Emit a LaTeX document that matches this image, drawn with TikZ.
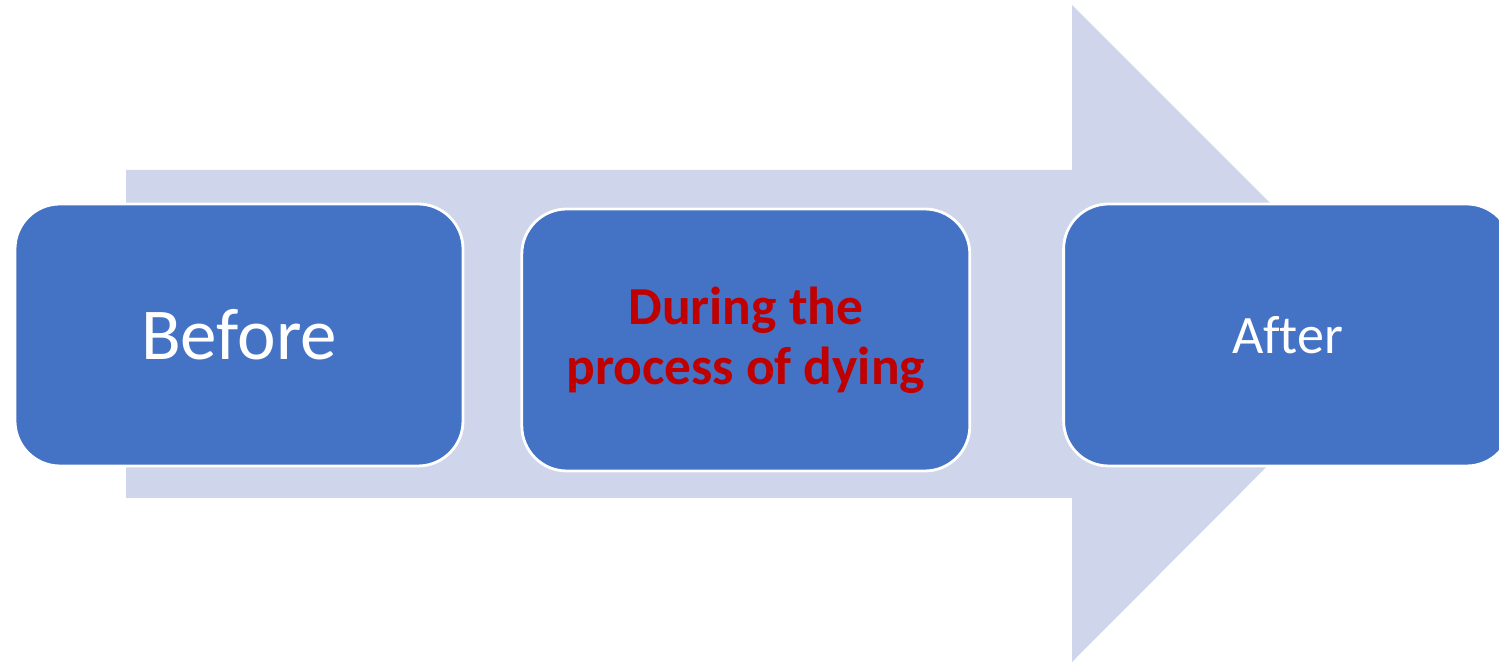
\documentclass[tikz,border=0pt]{standalone}
\usepackage{fontspec}
\setmainfont{Carlito}[Ligatures=NoCommon]
\usetikzlibrary{positioning}
\definecolor{boxblue}{HTML}{4472C4}
\definecolor{arrowgrey}{HTML}{CFD5EA}
\definecolor{textred}{HTML}{C00000}

\begin{document}
\begin{tikzpicture}[
    stage/.style={draw=white, line width=0.8pt, fill=boxblue, rounded corners=0.45cm, align=center, minimum width=4.48cm, minimum height=2.62cm, inner sep=0pt, text=white},
    bigarrow/.style={fill=arrowgrey, draw=none}
]
\useasboundingbox (0,0) rectangle (14.99,6.62);
\fill[bigarrow] (1.26,1.64) -- (10.72,1.64) -- (10.72,0) -- (14.0,3.29) -- (10.72,6.57) -- (10.72,4.92) -- (1.26,4.92) -- cycle;
\node[stage, font=\fontsize{20.8}{25}\selectfont] (before) at (2.39,3.27) {Before};
\node[stage, right=0.56cm of before, yshift=-0.05cm, text=textred, font=\bfseries\fontsize{15.2}{17}\selectfont] (during) {During the\\process of dying};
\node[stage, right=0.91cm of during, yshift=0.05cm, font=\fontsize{15.4}{19}\selectfont] (after) {After};
\end{tikzpicture}
\end{document}
